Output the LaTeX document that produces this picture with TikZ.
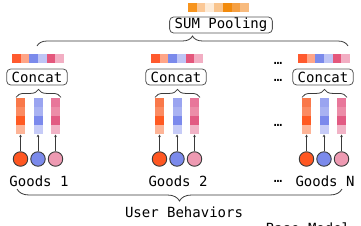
\documentclass[tikz,border=0pt]{standalone}
\usepackage{fontspec}
\setmonofont{DejaVu Sans Mono}
\usetikzlibrary{arrows.meta, positioning, decorations.pathreplacing, calc}
\definecolor{ink}{HTML}{3A3A3A}
\definecolor{edge}{HTML}{555555}
% pooled embedding
\definecolor{s1}{HTML}{F7941D}
\definecolor{s2}{HTML}{FBC896}
\definecolor{s3}{HTML}{FDEBD7}
\definecolor{s4}{HTML}{F9C48C}
\definecolor{s5}{HTML}{F28A0B}
\definecolor{s6}{HTML}{F5A043}
\definecolor{s7}{HTML}{F8BB7E}
% concatenated embedding
\definecolor{k1}{HTML}{FF5A2E}
\definecolor{k2}{HTML}{FFA587}
\definecolor{k3}{HTML}{7B8AEB}
\definecolor{k4}{HTML}{BFC5F5}
\definecolor{k5}{HTML}{E4577C}
\definecolor{k6}{HTML}{F2AEC3}
% feature columns
\definecolor{o1}{HTML}{F9784A}
\definecolor{o2}{HTML}{FB8B62}
\definecolor{o3}{HTML}{FF5A22}
\definecolor{o4}{HTML}{FDB497}
\definecolor{b1}{HTML}{9AA4F0}
\definecolor{b2}{HTML}{A9B2F2}
\definecolor{b3}{HTML}{7B89EC}
\definecolor{b4}{HTML}{C6CBF7}
\definecolor{p1}{HTML}{E8779A}
\definecolor{p2}{HTML}{EC8DA8}
\definecolor{p3}{HTML}{E25B83}
\definecolor{p4}{HTML}{F1B3C6}
\definecolor{oc}{HTML}{FF5722}
\definecolor{bc}{HTML}{7B8AEB}
\definecolor{pc}{HTML}{EE9AB2}

\begin{document}
\begin{tikzpicture}[x=1pt, y=-1pt,
  font=\fontsize{14}{16}\selectfont\ttfamily,
  bx/.style={draw=edge, fill=white, rounded corners=4pt, line width=0.8pt,
             inner xsep=5pt, inner ysep=1pt, minimum height=16pt},
  it/.style={circle, draw=ink, line width=0.9pt, minimum size=14.5pt, inner sep=0pt},
  ar/.style={-{Stealth[length=2.5pt,width=2.5pt]}, draw=ink, line width=0.6pt},
  brc/.style={decorate, decoration={brace, amplitude=#1}, draw=ink, line width=0.8pt},
  brc/.default=8pt]

\useasboundingbox (0,0) rectangle (361,225);

% pooling on top
\foreach \c [count=\i from 0] in {s1,s2,s3,s4,s5,s6,s7}
  \fill[\c] (188+8.7*\i,3) rectangle ++(8.7,9);
\node[bx] (sum) at (221,25) {SUM Pooling};
\coordinate (pl) at (37,46);
\coordinate (pr) at (348,46);
\draw[brc=10pt] (pl) -- (pr);

% one block per goods
\foreach \g/\x/\t in {1/38/1, 2/177/2, 3/324/N} {
  \foreach \c [count=\i from 0] in {k1,k2,k3,k4,k5,k6}
    \fill[\c] (\x-26+8.67*\i,54) rectangle ++(8.67,9);
  \node[bx] (cc\g) at (\x-1,77) {Concat};
  \draw[brc] ($(cc\g.south)+(-21,12)$) -- ($(cc\g.south)+(24,12)$);
  \foreach \k/\dx in {o/-17.5, b/0, p/17.5} {
    \foreach \r in {1,...,4}
      \fill[\k\r] (\x+\dx-4.5,89+9*\r) rectangle ++(9,9);
    \coordinate (t\g\k) at (\x+\dx,134.5);
    \node[it, fill=\k c] (n\g\k) at (\x+\dx,159) {};
    \draw[ar] (n\g\k) -- (t\g\k);
  }
  \node (g\g) at (\x+1,181) {Goods \t};
}

% dots between blocks
\node (d1) at (278,63) {…};
\node (d2) at (278,80) {…};
\node (d3) at (278,125) {…};
\node (d4) at (278,181) {…};

% behaviours
\coordinate (ul) at (17,189);
\coordinate (ur) at (342,189);
\draw[brc=12pt] (ur) -- (ul);
\node (ub) at (184,212) {User Behaviors};
\node[anchor=north, inner sep=0pt] (bm) at (308,222.5) {Base Model};
\end{tikzpicture}
\end{document}
